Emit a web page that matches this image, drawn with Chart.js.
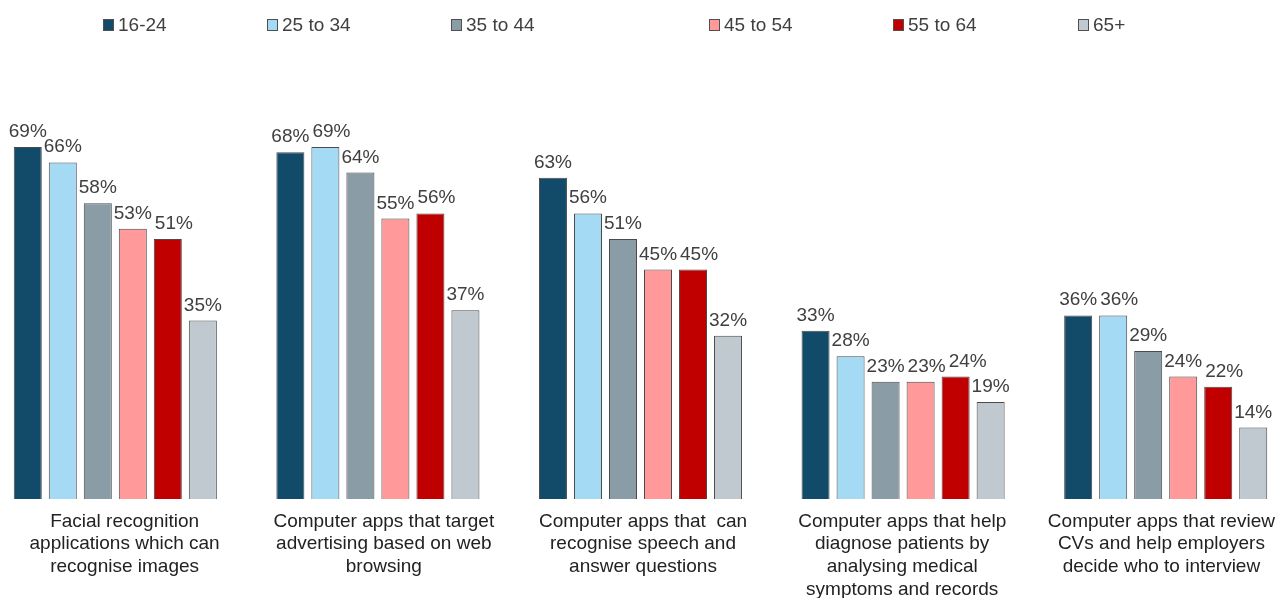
<!DOCTYPE html>
<html>
<head>
<meta charset="utf-8">
<script src="https://cdn.jsdelivr.net/npm/chart.js@4.4.1/dist/chart.umd.min.js"></script>
<style>
  html, body { margin: 0; padding: 0; background: #fff; }
  #page { position: relative; width: 1279px; height: 598px; overflow: hidden; font-family: "Liberation Sans", Arial, sans-serif; }
  #plot { position: absolute; left: -16px; top: 0; width: 1313px; height: 598px; }
  #legend { position: absolute; left: 0; top: 0; width: 1279px; height: 50px; }
  .item { position: absolute; top: 13px; height: 24px; display: flex; align-items: center; font-size: 19px; color: #404040; white-space: nowrap; }
  .box { width: 9px; height: 10px; border: 1px solid #505050; margin-right: 4px; }
</style>
</head>
<body>
<div id="page">
  <div id="plot"><canvas id="c" width="1313" height="598"></canvas></div>
  <div id="legend"></div>
</div>
<script>
// Survey results: share of each age group aware of each AI application
const categories = [
  ["Facial recognition", "applications which can", "recognise images"],
  ["Computer apps that target", "advertising based on web", "browsing"],
  ["Computer apps that  can", "recognise speech and", "answer questions"],
  ["Computer apps that help", "diagnose patients by", "analysing medical", "symptoms and records"],
  ["Computer apps that review", "CVs and help employers", "decide who to interview"]
];
const ageGroups = ["16-24", "25 to 34", "35 to 44", "45 to 54", "55 to 64", "65+"];
const age16to24 = [69, 68, 63, 33, 36];
const age25to34 = [66, 69, 56, 28, 36];
const age35to44 = [58, 64, 51, 23, 29];
const age45to54 = [53, 55, 45, 23, 24];
const age55to64 = [51, 56, 45, 24, 22];
const age65plus = [35, 37, 32, 19, 14];

const seriesValues = [age16to24, age25to34, age35to44, age45to54, age55to64, age65plus];
const colours = ["#124B69", "#A5DAF4", "#8A9DA7", "#FF999A", "#C00000", "#BFC9CF"];
const legendX = [103, 267, 451, 709, 893, 1078];
const FONT = '"Liberation Sans", Arial, sans-serif';

// HTML legend row
const legend = document.getElementById("legend");
ageGroups.forEach((name, i) => {
  const item = document.createElement("div");
  item.className = "item";
  item.style.left = legendX[i] + "px";
  const box = document.createElement("span");
  box.className = "box";
  box.style.background = colours[i];
  const label = document.createElement("span");
  label.textContent = name;
  item.appendChild(box);
  item.appendChild(label);
  legend.appendChild(item);
});

// Percentage labels above each bar; a label that would collide with its
// left neighbour at a similar height is nudged to the right.
const valueLabels = {
  id: "valueLabels",
  afterDatasetsDraw(chart) {
    const ctx = chart.ctx;
    ctx.save();
    ctx.font = "19px " + FONT;
    ctx.fillStyle = "#404040";
    ctx.textAlign = "center";
    ctx.textBaseline = "alphabetic";
    const sets = chart.data.datasets;
    for (let i = 0; i < chart.data.labels.length; i++) {
      let prev = null;
      sets.forEach((ds, di) => {
        const bar = chart.getDatasetMeta(di).data[i];
        const text = ds.data[i] + "%";
        const w = ctx.measureText(text).width;
        const y = bar.y - 10;
        let cx = bar.x;
        if (prev && Math.abs(prev.y - y) < 15 && cx - w / 2 < prev.right + 3) {
          cx = prev.right + 3 + w / 2;
        }
        ctx.fillText(text, cx, y);
        prev = { y, right: cx + w / 2 };
      });
    }
    ctx.restore();
  }
};

// The category captions sit on their own axis whose span is a little
// narrower than the bar axis, so the wrapped captions spread slightly less.
const captionAxis = {
  id: "captionAxis",
  afterLayout(chart) {
    const s = chart.scales.xl;
    s.left = 11;
    s.right = 1307;
    s.width = s.right - s.left;
    s.configure();
  }
};

new Chart(document.getElementById("c"), {
  type: "bar",
  data: {
    labels: categories,
    datasets: ageGroups.map((name, i) => ({
      label: name,
      data: seriesValues[i],
      backgroundColor: colours[i],
      borderColor: "#4a4a4a",
      borderWidth: 1,
      categoryPercentage: 0.8,
      barPercentage: 0.8,
      xAxisID: "x"
    }))
  },
  options: {
    responsive: false,
    animation: false,
    devicePixelRatio: 1,
    layout: { padding: { top: 40, left: 0, right: 0, bottom: 0 } },
    plugins: { legend: { display: false }, tooltip: { enabled: false } },
    scales: {
      x: { display: false },
      xl: {
        type: "category",
        position: "bottom",
        labels: categories,
        grid: { display: false, drawTicks: false },
        border: { display: false },
        ticks: {
          padding: 11,
          color: "#222",
          font: { family: FONT, size: 19, lineHeight: 1.2 },
          maxRotation: 0,
          autoSkip: false
        },
        afterFit(scale) { scale.height = 99; }
      },
      y: {
        display: false,
        min: 0,
        max: 90
      }
    }
  },
  plugins: [valueLabels, captionAxis]
});
</script>
</body>
</html>
